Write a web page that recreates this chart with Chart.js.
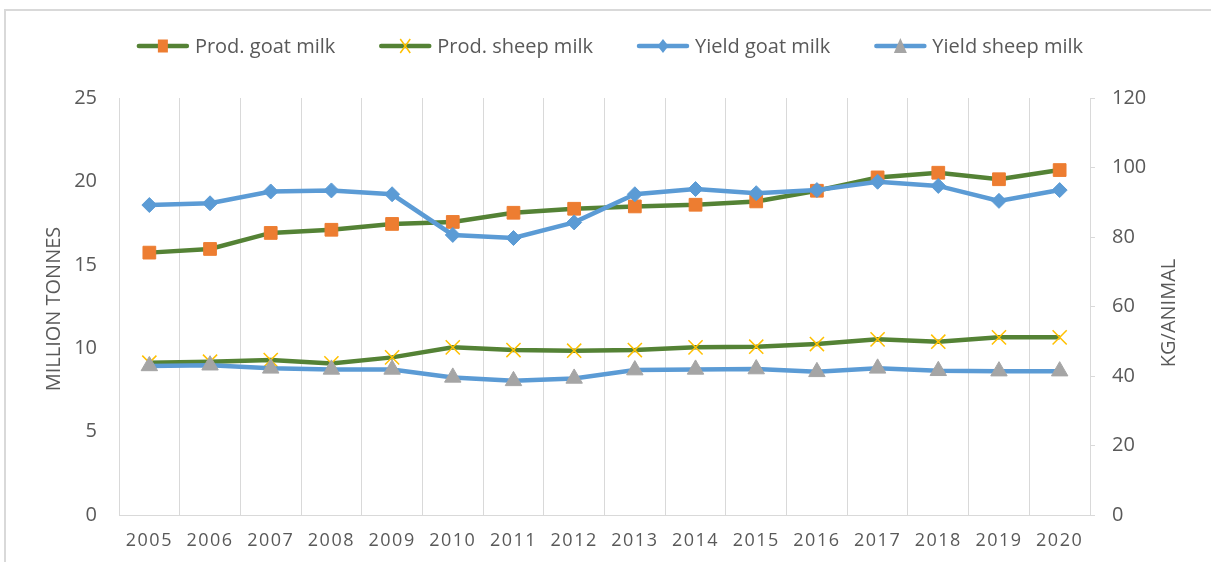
<!DOCTYPE html>
<html>
<head>
<meta charset="utf-8">
<script src="https://cdn.jsdelivr.net/npm/chart.js@4.4.1/dist/chart.umd.min.js"></script>
<style>
html,body{margin:0;padding:0;background:#fff;}
#wrap{position:relative;width:1211px;height:562px;}
</style>
</head>
<body>
<div id="wrap"><canvas id="c" width="1211" height="562"></canvas></div>
<script>
// ---- data ----
const years = ['2005','2006','2007','2008','2009','2010','2011','2012','2013','2014','2015','2016','2017','2018','2019','2020'];
const prodGoat   = [15.73,15.95,16.91,17.10,17.45,17.57,18.12,18.36,18.50,18.60,18.80,19.44,20.24,20.52,20.13,20.68];
const prodSheep  = [9.13,9.19,9.29,9.09,9.45,10.05,9.89,9.85,9.89,10.05,10.09,10.25,10.53,10.39,10.65,10.65];
const yieldGoat  = [89.2,89.7,93.1,93.4,92.3,80.6,79.7,84.2,92.3,93.8,92.6,93.5,95.9,94.7,90.4,93.5];
const yieldSheep = [42.9,43.1,42.2,41.9,41.9,39.6,38.6,39.3,41.7,41.9,42.0,41.2,42.2,41.5,41.4,41.4];
const seriesNames = ['Prod. goat milk','Prod. sheep milk','Yield goat milk','Yield sheep milk'];
const leftTitle = 'MILLION TONNES';
const rightTitle = 'KG/ANIMAL';
const leftRange = [0, 25, 5];
const rightRange = [0, 120, 20];

const GREEN = '#548235', ORANGE = '#ED7D31', YELLOW = '#FFC000', BLUE = '#5B9BD5', GRAY = '#A5A5A5';
const TXT = '#595959', GRID = '#d9d9d9';
const FONT = "'Open Sans', 'Liberation Sans', sans-serif";

const legendSpec = [
  {text: seriesNames[0], line: GREEN, marker: 'square', color: ORANGE},
  {text: seriesNames[1], line: GREEN, marker: 'x', color: YELLOW},
  {text: seriesNames[2], line: BLUE, marker: 'diamond', color: BLUE},
  {text: seriesNames[3], line: BLUE, marker: 'triangle', color: GRAY}
];

function drawMarker(ctx, type, x, y, color) {
  ctx.save();
  ctx.fillStyle = color; ctx.strokeStyle = color;
  ctx.beginPath();
  if (type === 'square') {
    ctx.rect(x - 5, y - 6.5, 10, 13); ctx.fill();
  } else if (type === 'diamond') {
    ctx.moveTo(x, y - 7); ctx.lineTo(x + 5.5, y); ctx.lineTo(x, y + 7); ctx.lineTo(x - 5.5, y); ctx.closePath(); ctx.fill();
  } else if (type === 'triangle') {
    ctx.moveTo(x, y - 8); ctx.lineTo(x + 6.5, y + 7); ctx.lineTo(x - 6.5, y + 7); ctx.closePath(); ctx.fill();
  } else if (type === 'x') {
    ctx.lineWidth = 1.5;
    ctx.moveTo(x - 5, y - 7); ctx.lineTo(x + 5, y + 7);
    ctx.moveTo(x + 5, y - 7); ctx.lineTo(x - 5, y + 7); ctx.stroke();
  }
  ctx.restore();
}

const decorPlugin = {
  id: 'decor',
  beforeDraw(chart) {
    const ctx = chart.ctx;
    // outer frame (left/top edges visible)
    ctx.save();
    ctx.strokeStyle = GRID; ctx.lineWidth = 2;
    ctx.beginPath(); ctx.moveTo(5, 562); ctx.lineTo(5, 10); ctx.lineTo(1211, 10); ctx.stroke();
    ctx.restore();
    // letter-spaced x labels
    const sx = chart.scales.x;
    if (sx && !sx._lsWrapped) {
      const orig = sx.drawLabels.bind(sx);
      sx.drawLabels = function(area) {
        const c = this.ctx; c.save(); c.letterSpacing = '1.5px'; orig(area); c.restore();
      };
      sx._lsWrapped = true;
    }
  },
  afterDraw(chart) {
    const ctx = chart.ctx;
    ctx.save();
    ctx.font = '20px ' + FONT;
    ctx.fillStyle = TXT;
    ctx.textBaseline = 'middle';
    // legend
    const lineLen = 52, gapText = 6, gapItem = 44, y = 46;
    let total = 0;
    legendSpec.forEach((it, i) => {
      total += lineLen + gapText + ctx.measureText(it.text).width + (i < legendSpec.length - 1 ? gapItem : 0);
    });
    let x = 610 - total / 2;
    legendSpec.forEach(it => {
      ctx.save();
      ctx.strokeStyle = it.line; ctx.lineWidth = 4.5; ctx.lineCap = 'round';
      ctx.beginPath(); ctx.moveTo(x + 2, y); ctx.lineTo(x + lineLen - 2, y); ctx.stroke();
      ctx.restore();
      drawMarker(ctx, it.marker, x + lineLen / 2, y, it.color);
      ctx.textAlign = 'left';
      ctx.fillText(it.text, x + lineLen + gapText, y + 1);
      x += lineLen + gapText + ctx.measureText(it.text).width + gapItem;
    });
    // axis titles (both rotated -90)
    ctx.textAlign = 'center';
    ctx.save(); ctx.translate(54, 309); ctx.rotate(-Math.PI / 2); ctx.fillText(leftTitle, 0, 0); ctx.restore();
    ctx.save(); ctx.translate(1169, 313); ctx.rotate(-Math.PI / 2); ctx.fillText(rightTitle, 0, 0); ctx.restore();
    ctx.restore();
  }
};

new Chart(document.getElementById('c'), {
  type: 'line',
  data: {
    labels: years,
    datasets: [
      {label: seriesNames[0], data: prodGoat, yAxisID: 'y', order: 3,
       borderColor: GREEN, borderWidth: 4.5, tension: 0,
       pointStyle: 'rect', pointRadius: 9, pointBackgroundColor: ORANGE, pointBorderColor: ORANGE, pointBorderWidth: 1},
      {label: seriesNames[1], data: prodSheep, yAxisID: 'y', order: 2,
       borderColor: GREEN, borderWidth: 4.5, tension: 0,
       pointStyle: 'crossRot', pointRadius: 10, pointBackgroundColor: YELLOW, pointBorderColor: YELLOW, pointBorderWidth: 1.5},
      {label: seriesNames[2], data: yieldGoat, yAxisID: 'y1', order: 1,
       borderColor: BLUE, borderWidth: 4.5, tension: 0,
       pointStyle: 'rectRot', pointRadius: 7.5, pointBackgroundColor: BLUE, pointBorderColor: BLUE, pointBorderWidth: 1},
      {label: seriesNames[3], data: yieldSheep, yAxisID: 'y1', order: 0,
       borderColor: BLUE, borderWidth: 4.5, tension: 0,
       pointStyle: 'triangle', pointRadius: 9.5, pointBackgroundColor: GRAY, pointBorderColor: GRAY, pointBorderWidth: 1}
    ]
  },
  options: {
    responsive: false,
    animation: false,
    layout: {padding: {top: 98, bottom: 0, left: 0, right: 0}},
    plugins: {legend: {display: false}, tooltip: {enabled: false}},
    scales: {
      x: {
        type: 'category', offset: true,
        grid: {offset: true, color: GRID, lineWidth: 1, drawTicks: false},
        border: {color: GRID, width: 1},
        ticks: {color: TXT, font: {family: FONT, size: 18}, padding: 15, maxRotation: 0, autoSkip: false},
        afterFit: s => { s.height = 47; }
      },
      y: {
        position: 'left', min: leftRange[0], max: leftRange[1],
        ticks: {stepSize: leftRange[2], color: TXT, font: {family: FONT, size: 20}, padding: 22},
        grid: {display: false, drawTicks: false},
        border: {display: false},
        afterFit: s => { s.width = 119; }
      },
      y1: {
        position: 'right', min: rightRange[0], max: rightRange[1],
        ticks: {stepSize: rightRange[2], color: TXT, font: {family: FONT, size: 20}, padding: 17},
        grid: {drawOnChartArea: false, drawTicks: true, tickLength: 5, color: GRID},
        border: {display: true, color: GRID, width: 1},
        afterFit: s => { s.width = 121; }
      }
    }
  },
  plugins: [decorPlugin]
});
</script>
</body>
</html>
